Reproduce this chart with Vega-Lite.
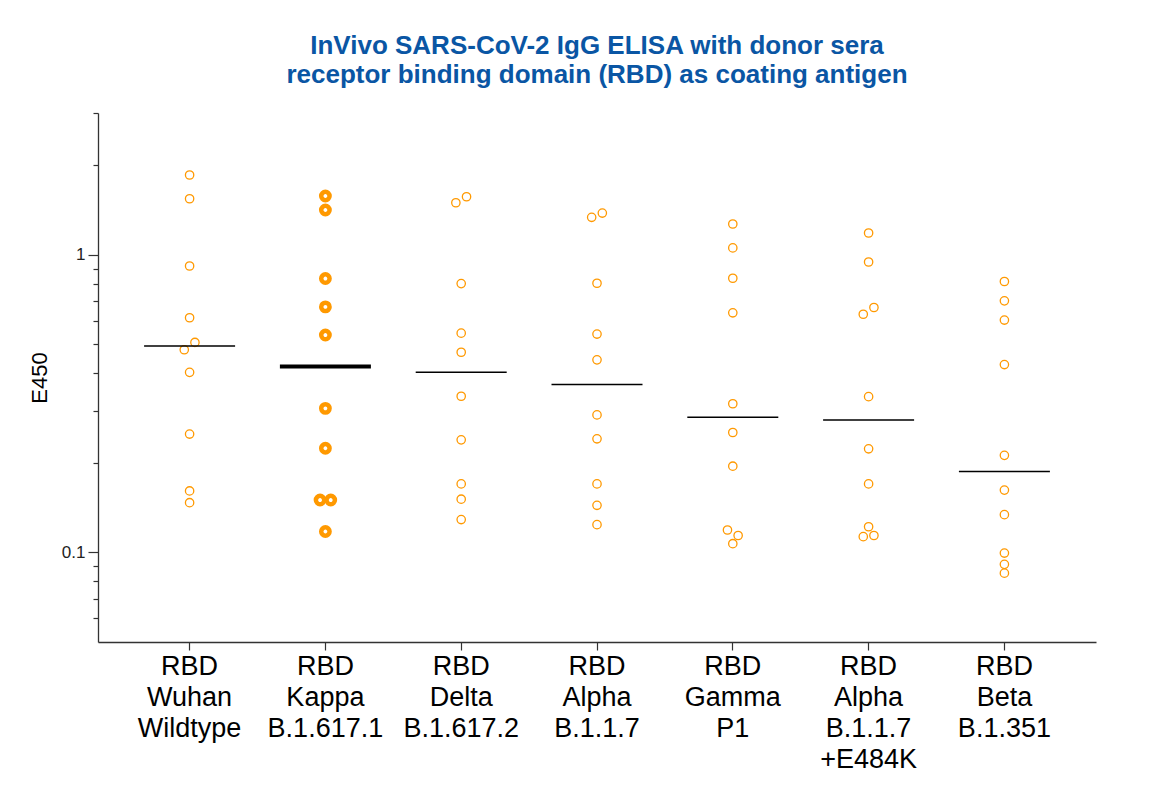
{
  "$schema": "https://vega.github.io/schema/vega-lite/v6.json",
  "width": 998,
  "height": 529,
  "autosize": {"type": "none"},
  "padding": {"left": 98, "top": 113, "right": 76, "bottom": 150},
  "background": "white",
  "config": {"view": {"stroke": null}, "font": "Liberation Sans"},
  "title": {
    "text": ["InVivo SARS-CoV-2 IgG ELISA with donor sera", "receptor binding domain (RBD) as coating antigen"],
    "color": "#0A56A4",
    "fontSize": 26,
    "fontWeight": "bold",
    "font": "Liberation Sans",
    "lineHeight": 29,
    "anchor": "middle",
    "frame": "group",
    "offset": 16
  },
  "data": {
    "values": [
      {"g": "RBD|Wuhan|Wildtype", "v": 1.856, "s": "C"},
      {"g": "RBD|Wuhan|Wildtype", "v": 1.545, "s": "C"},
      {"g": "RBD|Wuhan|Wildtype", "v": 0.918, "s": "C"},
      {"g": "RBD|Wuhan|Wildtype", "v": 0.615, "s": "C"},
      {"g": "RBD|Wuhan|Wildtype", "v": 0.508, "s": "R"},
      {"g": "RBD|Wuhan|Wildtype", "v": 0.480, "s": "L"},
      {"g": "RBD|Wuhan|Wildtype", "v": 0.403, "s": "C"},
      {"g": "RBD|Wuhan|Wildtype", "v": 0.250, "s": "C"},
      {"g": "RBD|Wuhan|Wildtype", "v": 0.161, "s": "C"},
      {"g": "RBD|Wuhan|Wildtype", "v": 0.147, "s": "C"},
      {"g": "RBD|Kappa|B.1.617.1", "v": 1.578, "s": "C"},
      {"g": "RBD|Kappa|B.1.617.1", "v": 1.416, "s": "C"},
      {"g": "RBD|Kappa|B.1.617.1", "v": 0.833, "s": "C"},
      {"g": "RBD|Kappa|B.1.617.1", "v": 0.669, "s": "C"},
      {"g": "RBD|Kappa|B.1.617.1", "v": 0.538, "s": "C"},
      {"g": "RBD|Kappa|B.1.617.1", "v": 0.305, "s": "C"},
      {"g": "RBD|Kappa|B.1.617.1", "v": 0.224, "s": "C"},
      {"g": "RBD|Kappa|B.1.617.1", "v": 0.150, "s": "L"},
      {"g": "RBD|Kappa|B.1.617.1", "v": 0.150, "s": "R"},
      {"g": "RBD|Kappa|B.1.617.1", "v": 0.1176, "s": "C"},
      {"g": "RBD|Delta|B.1.617.2", "v": 1.569, "s": "R"},
      {"g": "RBD|Delta|B.1.617.2", "v": 1.498, "s": "L"},
      {"g": "RBD|Delta|B.1.617.2", "v": 0.801, "s": "C"},
      {"g": "RBD|Delta|B.1.617.2", "v": 0.546, "s": "C"},
      {"g": "RBD|Delta|B.1.617.2", "v": 0.471, "s": "C"},
      {"g": "RBD|Delta|B.1.617.2", "v": 0.335, "s": "C"},
      {"g": "RBD|Delta|B.1.617.2", "v": 0.239, "s": "C"},
      {"g": "RBD|Delta|B.1.617.2", "v": 0.170, "s": "C"},
      {"g": "RBD|Delta|B.1.617.2", "v": 0.151, "s": "C"},
      {"g": "RBD|Delta|B.1.617.2", "v": 0.129, "s": "C"},
      {"g": "RBD|Alpha|B.1.1.7", "v": 1.383, "s": "R"},
      {"g": "RBD|Alpha|B.1.1.7", "v": 1.338, "s": "L"},
      {"g": "RBD|Alpha|B.1.1.7", "v": 0.803, "s": "C"},
      {"g": "RBD|Alpha|B.1.1.7", "v": 0.542, "s": "C"},
      {"g": "RBD|Alpha|B.1.1.7", "v": 0.444, "s": "C"},
      {"g": "RBD|Alpha|B.1.1.7", "v": 0.290, "s": "C"},
      {"g": "RBD|Alpha|B.1.1.7", "v": 0.241, "s": "C"},
      {"g": "RBD|Alpha|B.1.1.7", "v": 0.170, "s": "C"},
      {"g": "RBD|Alpha|B.1.1.7", "v": 0.144, "s": "C"},
      {"g": "RBD|Alpha|B.1.1.7", "v": 0.124, "s": "C"},
      {"g": "RBD|Gamma|P1", "v": 1.271, "s": "C"},
      {"g": "RBD|Gamma|P1", "v": 1.056, "s": "C"},
      {"g": "RBD|Gamma|P1", "v": 0.835, "s": "C"},
      {"g": "RBD|Gamma|P1", "v": 0.639, "s": "C"},
      {"g": "RBD|Gamma|P1", "v": 0.316, "s": "C"},
      {"g": "RBD|Gamma|P1", "v": 0.253, "s": "C"},
      {"g": "RBD|Gamma|P1", "v": 0.195, "s": "C"},
      {"g": "RBD|Gamma|P1", "v": 0.119, "s": "L"},
      {"g": "RBD|Gamma|P1", "v": 0.114, "s": "R"},
      {"g": "RBD|Gamma|P1", "v": 0.107, "s": "C"},
      {"g": "RBD|Alpha|B.1.1.7|+E484K", "v": 1.185, "s": "C"},
      {"g": "RBD|Alpha|B.1.1.7|+E484K", "v": 0.947, "s": "C"},
      {"g": "RBD|Alpha|B.1.1.7|+E484K", "v": 0.666, "s": "R"},
      {"g": "RBD|Alpha|B.1.1.7|+E484K", "v": 0.632, "s": "L"},
      {"g": "RBD|Alpha|B.1.1.7|+E484K", "v": 0.334, "s": "C"},
      {"g": "RBD|Alpha|B.1.1.7|+E484K", "v": 0.223, "s": "C"},
      {"g": "RBD|Alpha|B.1.1.7|+E484K", "v": 0.170, "s": "C"},
      {"g": "RBD|Alpha|B.1.1.7|+E484K", "v": 0.122, "s": "C"},
      {"g": "RBD|Alpha|B.1.1.7|+E484K", "v": 0.113, "s": "L"},
      {"g": "RBD|Alpha|B.1.1.7|+E484K", "v": 0.114, "s": "R"},
      {"g": "RBD|Beta|B.1.351", "v": 0.814, "s": "C"},
      {"g": "RBD|Beta|B.1.351", "v": 0.701, "s": "C"},
      {"g": "RBD|Beta|B.1.351", "v": 0.604, "s": "C"},
      {"g": "RBD|Beta|B.1.351", "v": 0.428, "s": "C"},
      {"g": "RBD|Beta|B.1.351", "v": 0.212, "s": "C"},
      {"g": "RBD|Beta|B.1.351", "v": 0.162, "s": "C"},
      {"g": "RBD|Beta|B.1.351", "v": 0.134, "s": "C"},
      {"g": "RBD|Beta|B.1.351", "v": 0.0995, "s": "C"},
      {"g": "RBD|Beta|B.1.351", "v": 0.0912, "s": "C"},
      {"g": "RBD|Beta|B.1.351", "v": 0.0852, "s": "C"}
    ]
  },
  "encoding": {
    "x": {
      "field": "g",
      "type": "nominal",
      "sort": null,
      "scale": {
        "type": "band",
        "domain": ["RBD|Wuhan|Wildtype", "RBD|Kappa|B.1.617.1", "RBD|Delta|B.1.617.2", "RBD|Alpha|B.1.1.7", "RBD|Gamma|P1", "RBD|Alpha|B.1.1.7|+E484K", "RBD|Beta|B.1.351"],
        "paddingInner": 0,
        "paddingOuter": 0.1745
      },
      "axis": {
        "title": null,
        "labelExpr": "split(datum.label, '|')",
        "labelAngle": 0,
        "labelFontSize": 27,
        "labelFont": "Liberation Sans",
        "labelColor": "#000000",
        "labelLineHeight": 31,
        "labelPadding": 3,
        "labelBaseline": "top",
        "tickSize": 8,
        "tickColor": "#333333",
        "tickWidth": 1.2,
        "domainColor": "#333333",
        "domainWidth": 1.3
      }
    }
  },
  "layer": [
    {
      "mark": {"type": "point", "shape": "circle", "filled": false, "size": 70, "color": "#FF9900", "opacity": 1},
      "encoding": {
        "xOffset": {"field": "s", "type": "nominal", "scale": {"type": "point", "domain": ["L", "C", "R"], "range": [59.9, 75.9]}},
        "y": {
          "field": "v",
          "type": "quantitative",
          "scale": {"type": "log", "domain": [0.05, 3], "nice": false},
          "axis": {
            "title": "E450",
            "values": [0.06, 0.07, 0.08, 0.09, 0.1, 0.2, 0.3, 0.4, 0.5, 0.6, 0.7, 0.8, 0.9, 1, 2, 3],
            "labelExpr": "datum.value == 1 ? '1' : (datum.value == 0.1 ? '0.1' : '')",
            "labelOverlap": false,
            "labelFlush": false,
            "labelFontSize": 17,
            "labelFont": "Liberation Sans",
            "labelColor": "#222222",
            "labelPadding": 3,
            "tickSize": {"condition": {"test": "datum.value == 1 || datum.value == 0.1", "value": 10}, "value": 5},
            "tickColor": "#333333",
            "tickWidth": 1.2,
            "domainColor": "#333333",
            "domainWidth": 1.3,
            "grid": false,
            "titleFontSize": 22,
            "titleFont": "Liberation Sans",
            "titleFontWeight": "normal",
            "titleColor": "#000000",
            "titlePadding": 10
          }
        },
        "strokeWidth": {"condition": {"test": "datum.g == 'RBD|Kappa|B.1.617.1'", "value": 4.5}, "value": 1.3}
      }
    },
    {
      "transform": [{"filter": "datum.g != 'RBD|Kappa|B.1.617.1'"}],
      "mark": {"type": "tick", "size": 91, "thickness": 1.5, "color": "#000000", "opacity": 1},
      "encoding": {
        "y": {"aggregate": "median", "field": "v", "type": "quantitative", "axis": {"title": "E450"}}
      }
    },
    {
      "transform": [{"filter": "datum.g == 'RBD|Kappa|B.1.617.1'"}],
      "mark": {"type": "tick", "size": 91, "thickness": 4, "color": "#000000", "opacity": 1},
      "encoding": {
        "y": {"aggregate": "median", "field": "v", "type": "quantitative", "axis": {"title": "E450"}}
      }
    }
  ]
}
